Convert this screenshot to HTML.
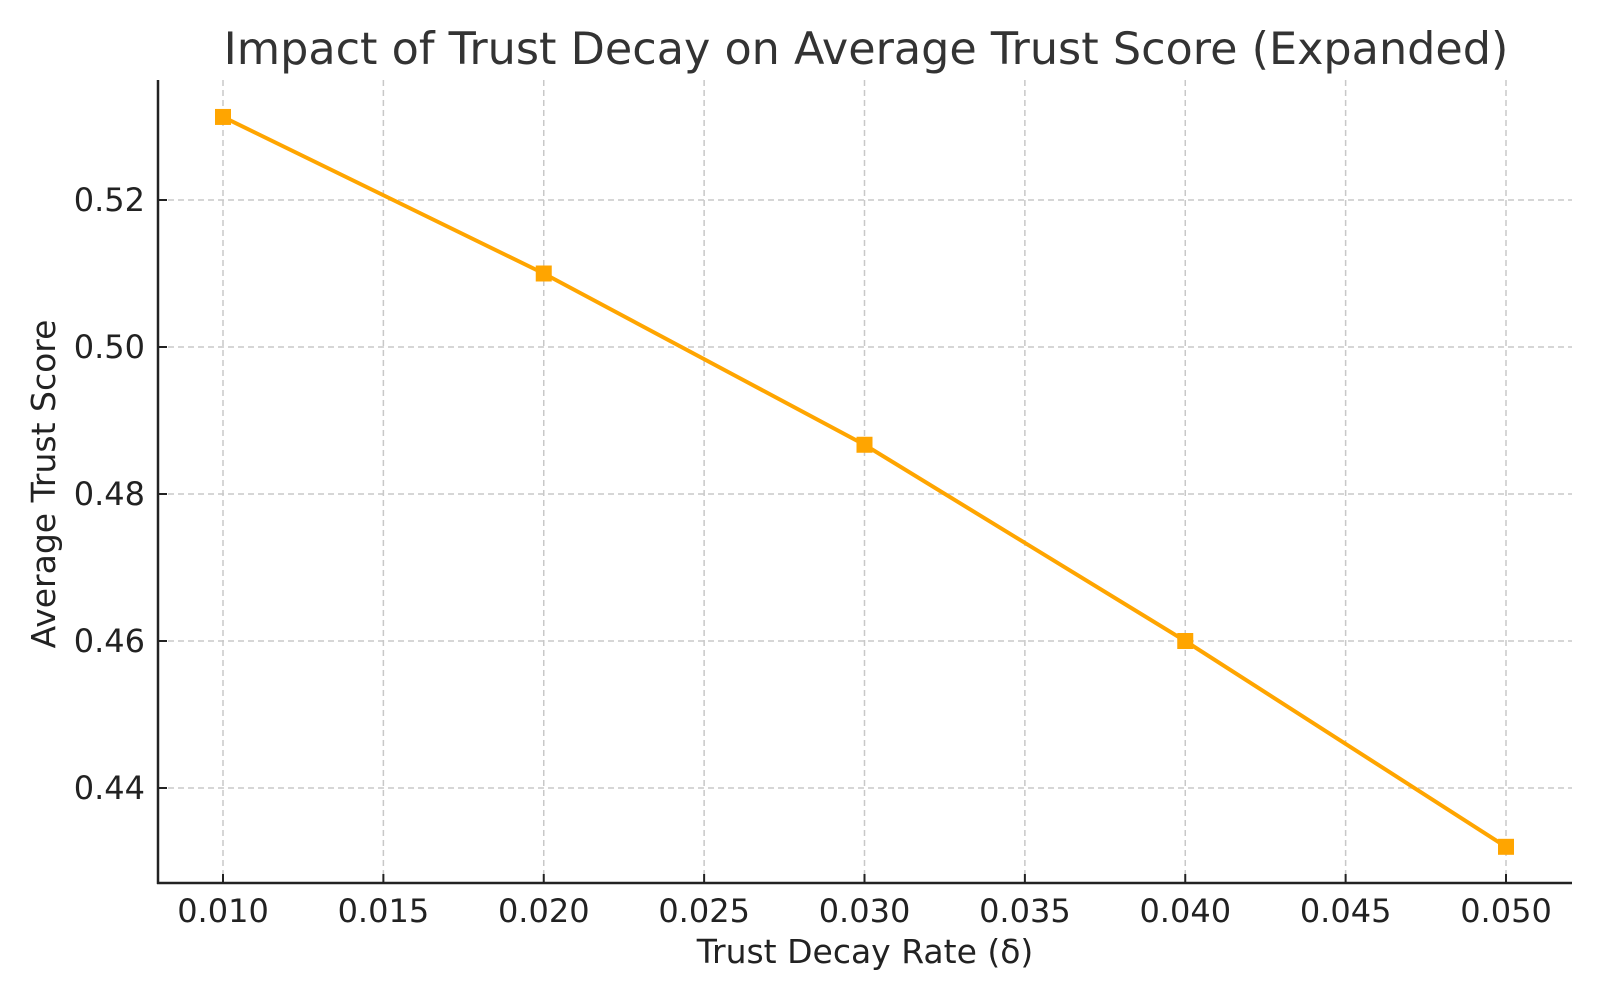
<!DOCTYPE html>
<html><head><meta charset="utf-8"><style>
body{margin:0;background:#fff}
svg text{font-family:"DejaVu Sans","Liberation Sans",sans-serif;fill:#222}
</style></head><body>
<svg id="chart" width="1600" height="1000" xmlns="http://www.w3.org/2000/svg">
<text x="866" y="64" font-size="44.5" text-anchor="middle" style="fill:#333">Impact of Trust Decay on Average Trust Score (Expanded)</text>
<g id="grid"></g>
<g id="ticks"></g>
<line x1="158" y1="80" x2="158" y2="884" stroke="#222" stroke-width="2.5"/>
<line x1="157" y1="883" x2="1572" y2="883" stroke="#222" stroke-width="2.5"/>
<g id="series"></g>
<text x="865" y="963" font-size="33" text-anchor="middle">Trust Decay Rate (δ)</text>
<text transform="translate(55,484) rotate(-90)" font-size="33" text-anchor="middle">Average Trust Score</text>
</svg>
<script>
const xValues=[0.010,0.020,0.030,0.040,0.050];
const yValues=[0.5313,0.510,0.4867,0.460,0.432];
const xTicks=[0.010,0.015,0.020,0.025,0.030,0.035,0.040,0.045,0.050];
const yTicks=[0.44,0.46,0.48,0.50,0.52];
const NS="http://www.w3.org/2000/svg";
function xs(v){return 223+(v-0.010)*32075;}
function ys(v){return 200-(v-0.52)*7350;}
function mk(t,a,p){const e=document.createElementNS(NS,t);for(const k in a)e.setAttribute(k,a[k]);p.appendChild(e);return e;}
const grid=document.getElementById('grid'),ticks=document.getElementById('ticks'),ser=document.getElementById('series');
xTicks.forEach(v=>{const x=xs(v);
 const g=mk('line',{x1:x,x2:x,y1:80,y2:883,stroke:'#c8c8c8','stroke-width':1.5,'stroke-dasharray':'6,4'},grid);
 
 
 const t=mk('line',{x1:x,x2:x,y1:883,y2:874,stroke:'#222','stroke-width':2},ticks);
 
 
 const l=mk('text',{x:x,y:922,'font-size':32,'text-anchor':'middle'},ticks);l.textContent=v.toFixed(3);
 
 });
yTicks.forEach(v=>{const y=ys(v);
 const g=mk('line',{x1:158,x2:1572,y1:y,y2:y,stroke:'#c8c8c8','stroke-width':1.5,'stroke-dasharray':'6,4'},grid);
 
 
 const t=mk('line',{x1:158,x2:167,y1:y,y2:y,stroke:'#222','stroke-width':2},ticks);
 
 
 const l=mk('text',{x:145,y:y+11,'font-size':32,'text-anchor':'end'},ticks);l.textContent=v.toFixed(2);
 
 });
const pl=mk('polyline',{points:xValues.map((v,i)=>xs(v)+','+ys(yValues[i])).join(' '),fill:'none',stroke:'#FFA500','stroke-width':4},ser);


xValues.forEach((v,i)=>{const m=mk('rect',{x:xs(v)-8,y:ys(yValues[i])-8,width:16,height:16,fill:'#FFA500'},ser);
 
 });
</script>
</body></html>
